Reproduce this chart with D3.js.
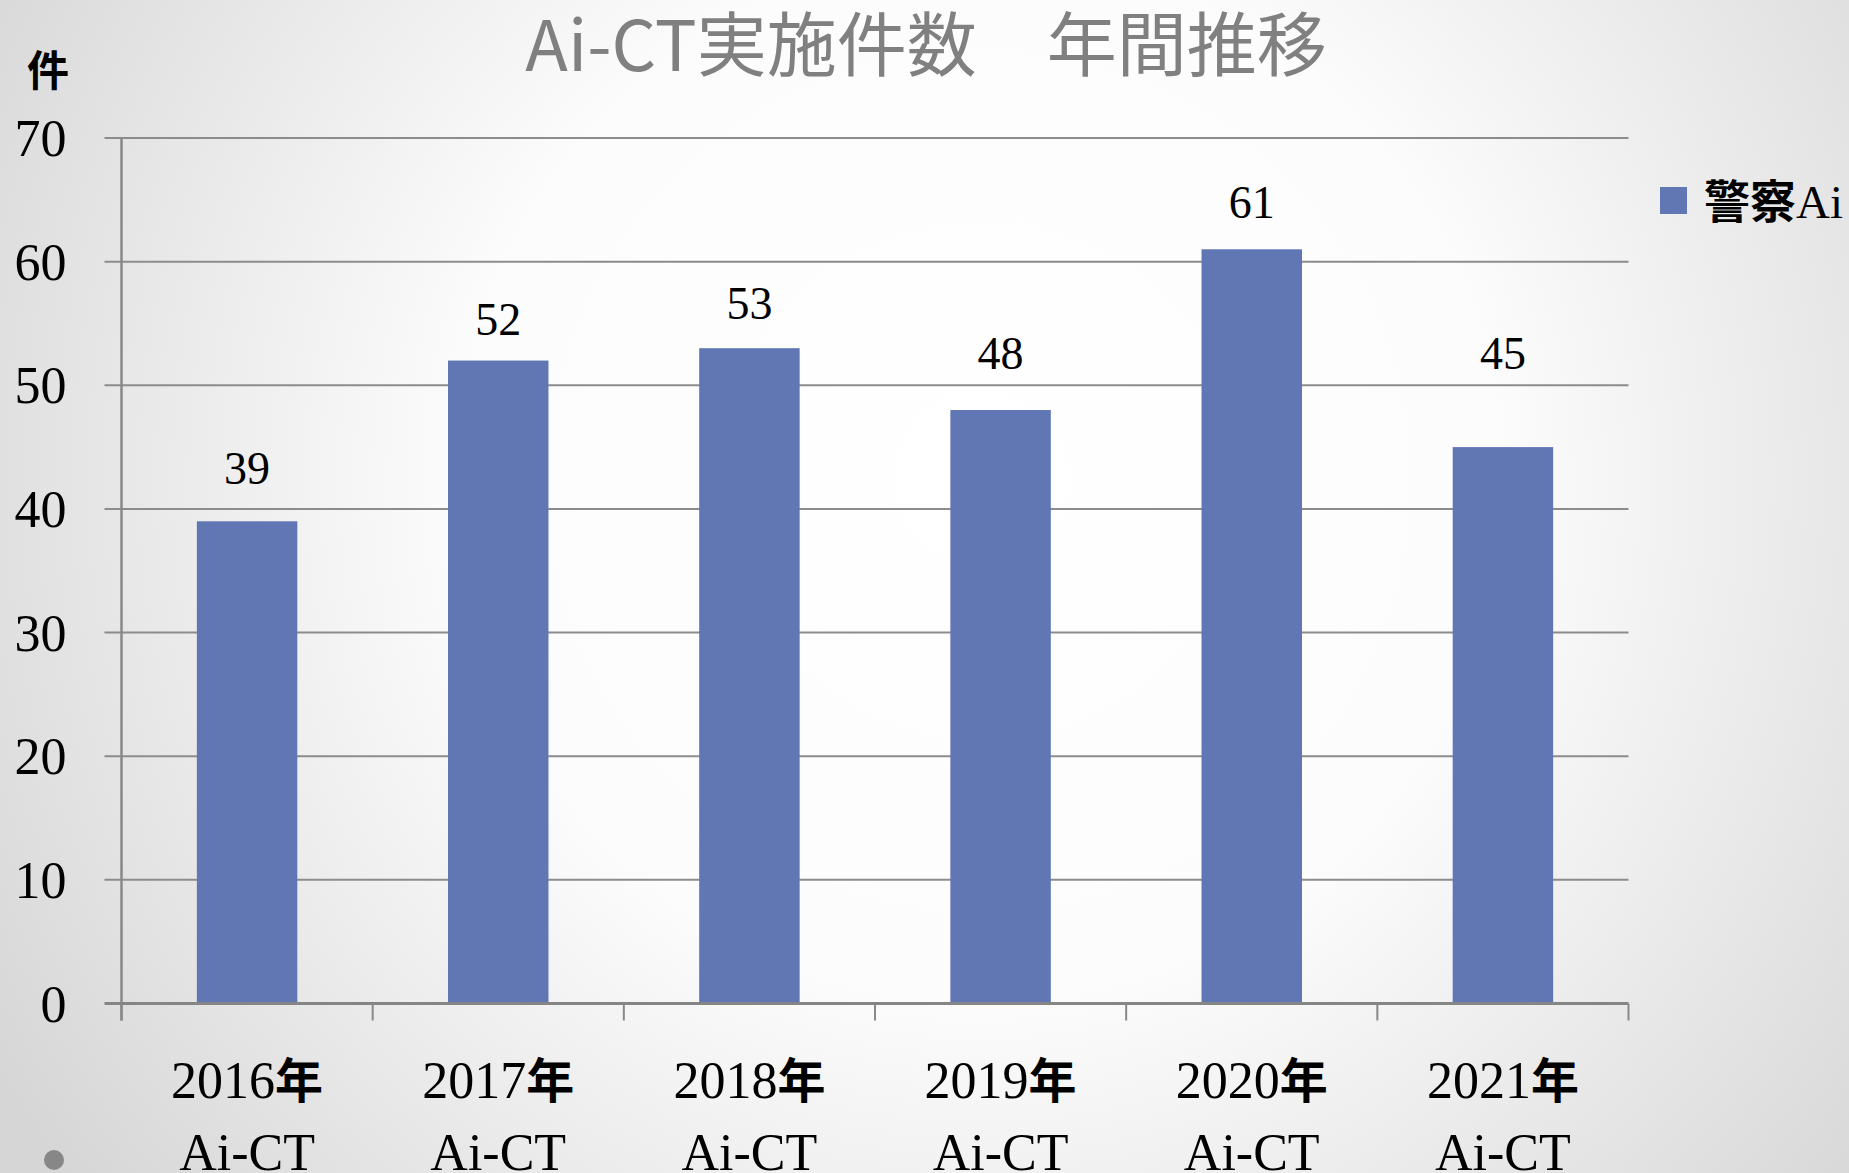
<!DOCTYPE html>
<html>
<head>
<meta charset="utf-8">
<script src="https://cdn.jsdelivr.net/npm/d3@7"></script>
<style>
  html, body { margin: 0; padding: 0; overflow: hidden; }
  body { width: 1849px; height: 1173px; }
</style>
</head>
<body>
<div id="chart"></div>
<script>
var years = ["2016年", "2017年", "2018年", "2019年", "2020年", "2021年"];
var subLabel = "Ai-CT";
var counts = [39, 52, 53, 48, 61, 45];
// level (in 件) where each value label sits
var labelLevels = [42.0, 54.1, 55.4, 51.3, 63.5, 51.3];
var yTicks = [0, 10, 20, 30, 40, 50, 60, 70];
var seriesName = "警察Ai";
var titleText = "Ai-CT実施件数　年間推移";
var unitText = "件";

var W = 1849, H = 1173;
var margin = { top: 138, left: 121.5, right: 220.5, bottom: 169.5 };
var width = W - margin.left - margin.right,
    height = H - margin.top - margin.bottom;

var serif = "'Liberation Serif', 'Noto Sans CJK JP', serif";

var svg = d3.select("#chart").append("svg")
  .attr("width", W)
  .attr("height", H);

// background
var defs = svg.append("defs");
var grad = defs.append("radialGradient")
  .attr("id", "bg")
  .attr("gradientUnits", "userSpaceOnUse")
  .attr("cx", 980).attr("cy", 480).attr("r", 1150);
grad.append("stop").attr("offset", "0%").attr("stop-color", "#ffffff");
grad.append("stop").attr("offset", "45%").attr("stop-color", "#fcfcfc");
grad.append("stop").attr("offset", "100%").attr("stop-color", "#d6d6d6");
svg.append("rect").attr("width", W).attr("height", H).attr("fill", "url(#bg)");

var g = svg.append("g")
  .attr("transform", "translate(" + margin.left + "," + margin.top + ")");

var x = d3.scaleBand()
  .domain(years)
  .range([0, width])
  .paddingInner(0.6)
  .paddingOuter(0.3);

var y = d3.scaleLinear()
  .domain([0, 70])
  .range([height, 0]);

// gridlines + left tick marks
g.append("g")
  .selectAll("line")
  .data(yTicks.filter(function(d) { return d > 0 }))
  .enter().append("line")
  .attr("x1", -17)
  .attr("x2", width)
  .attr("y1", function(d) { return y(d) })
  .attr("y2", function(d) { return y(d) })
  .attr("stroke", "#8c8c8c")
  .attr("stroke-width", 2);

// y tick labels
g.append("g")
  .selectAll("text")
  .data(yTicks)
  .enter().append("text")
  .attr("x", -55)
  .attr("y", function(d) { return y(d) + 18 })
  .attr("text-anchor", "end")
  .attr("font-family", serif)
  .attr("font-size", 52)
  .attr("fill", "#000")
  .text(function(d) { return d });

// bars
g.append("g")
  .selectAll("rect")
  .data(counts)
  .enter().append("rect")
  .attr("x", function(d, i) { return x(years[i]) })
  .attr("width", x.bandwidth())
  .attr("y", function(d) { return y(d) })
  .attr("height", function(d) { return height - y(d) })
  .attr("fill", "#6077b4");

// value labels
g.append("g")
  .selectAll("text")
  .data(counts)
  .enter().append("text")
  .attr("x", function(d, i) { return x(years[i]) + x.bandwidth() / 2 })
  .attr("y", function(d, i) { return y(labelLevels[i]) })
  .attr("text-anchor", "middle")
  .attr("font-family", serif)
  .attr("font-size", 46)
  .attr("fill", "#000")
  .text(function(d) { return d });

// y axis line
g.append("line")
  .attr("x1", 0).attr("x2", 0)
  .attr("y1", 0).attr("y2", height + 17)
  .attr("stroke", "#888")
  .attr("stroke-width", 2.5);

// x axis line
g.append("line")
  .attr("x1", -17).attr("x2", width)
  .attr("y1", height).attr("y2", height)
  .attr("stroke", "#858585")
  .attr("stroke-width", 3);

// category boundary ticks
var step = width / years.length;
g.append("g")
  .selectAll("line")
  .data(d3.range(years.length + 1))
  .enter().append("line")
  .attr("x1", function(d) { return d * step })
  .attr("x2", function(d) { return d * step })
  .attr("y1", height)
  .attr("y2", height + 17)
  .attr("stroke", "#888")
  .attr("stroke-width", 2);

// category labels
var cat = g.append("g")
  .selectAll("text")
  .data(years)
  .enter().append("text")
  .attr("x", function(d) { return x(d) + x.bandwidth() / 2 })
  .attr("y", height + 94)
  .attr("text-anchor", "middle")
  .attr("font-family", serif)
  .attr("font-size", 52)
  .attr("fill", "#000");
cat.append("tspan").text(function(d) { return d.slice(0, 4) });
cat.append("tspan").attr("font-weight", 700).attr("font-size", 48).text(function(d) { return d.slice(4) });

g.append("g")
  .selectAll("text")
  .data(years)
  .enter().append("text")
  .attr("x", function(d) { return x(d) + x.bandwidth() / 2 })
  .attr("y", height + 166)
  .attr("text-anchor", "middle")
  .attr("font-family", serif)
  .attr("font-size", 52)
  .attr("fill", "#000")
  .text(subLabel);

// title
svg.append("text")
  .attr("x", 926)
  .attr("y", 71)
  .attr("text-anchor", "middle")
  .attr("font-family", "'Noto Sans CJK JP', sans-serif")
  .attr("font-size", 70)
  .attr("fill", "#808080")
  .text(titleText);

// unit label
svg.append("text")
  .attr("x", 48)
  .attr("y", 86)
  .attr("text-anchor", "middle")
  .attr("font-family", "'Noto Sans CJK JP', sans-serif")
  .attr("font-weight", 700)
  .attr("font-size", 42)
  .attr("fill", "#000")
  .text(unitText);

// legend
var legend = svg.append("g").attr("transform", "translate(1660,187)");
legend.append("rect")
  .attr("width", 27).attr("height", 27)
  .attr("fill", "#6077b4");
var lt = legend.append("text")
  .attr("x", 44)
  .attr("y", 31)
  .attr("font-family", serif)
  .attr("font-size", 47)
  .attr("fill", "#000");
lt.append("tspan").attr("font-family", "'Noto Sans CJK JP', sans-serif").attr("font-weight", 700).attr("font-size", 46).text(seriesName.slice(0, 2));
lt.append("tspan").text(seriesName.slice(2));

// slide bullet
svg.append("circle")
  .attr("cx", 54).attr("cy", 1160).attr("r", 10)
  .attr("fill", "#878787");
</script>
</body>
</html>
